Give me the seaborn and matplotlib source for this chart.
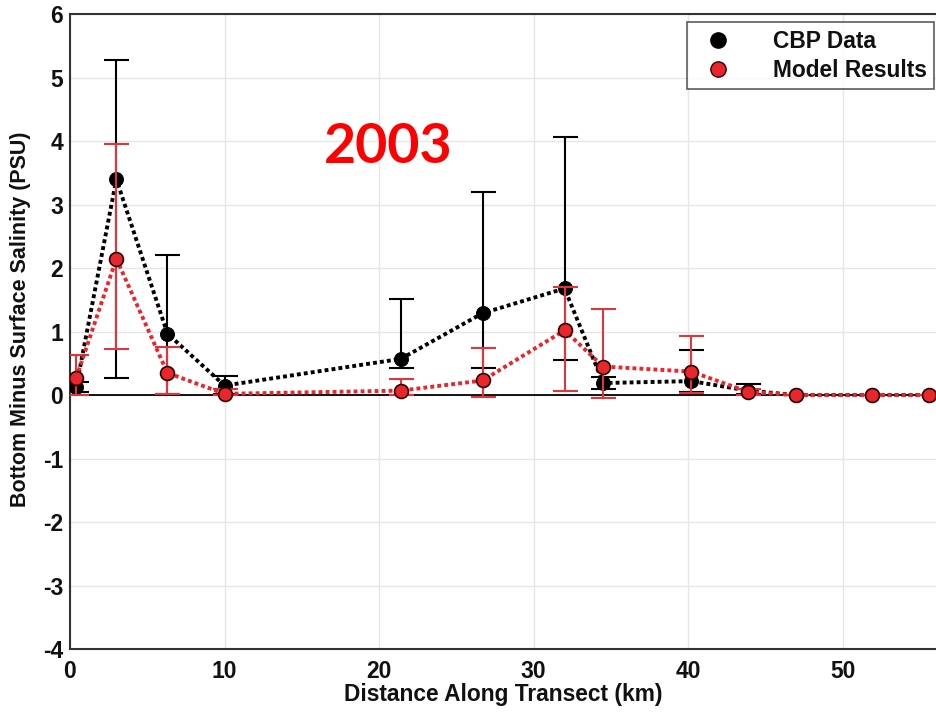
import numpy as np
import pandas as pd
import matplotlib
matplotlib.use("Agg")
import matplotlib.pyplot as plt
import seaborn as sns
from matplotlib.lines import Line2D

# ---- data ----
distance_km = [0.4, 3.0, 6.3, 10.0, 21.4, 26.7, 32.0, 34.5, 40.2, 43.9, 47.0, 51.9, 55.6]
cbp_data    = [0.12, 3.40, 0.97, 0.15, 0.57, 1.29, 1.68, 0.19, 0.22, 0.07, 0.0, 0.0, 0.0]
cbp_low     = [0.05, 0.27, 0.02, 0.02, 0.42, 0.42, 0.56, 0.10, 0.05, 0.02, 0.0, 0.0, 0.0]
cbp_high    = [0.20, 5.28, 2.20, 0.30, 1.51, 3.20, 4.07, 0.28, 0.71, 0.17, 0.0, 0.0, 0.0]
model       = [0.27, 2.15, 0.35, 0.02, 0.07, 0.23, 1.02, 0.45, 0.37, 0.05, 0.0, 0.0, 0.0]
model_low   = [0.0, 0.73, 0.02, 0.0, 0.0, -0.03, 0.06, -0.05, 0.03, 0.0, 0.0, 0.0, 0.0]
model_high  = [0.63, 3.95, 0.75, 0.10, 0.25, 0.74, 1.70, 1.35, 0.93, 0.10, 0.0, 0.0, 0.0]
x_ticks = [0, 10, 20, 30, 40, 50]
y_ticks = [-4, -3, -2, -1, 0, 1, 2, 3, 4, 5, 6]
series_names = ["CBP Data", "Model Results"]
year_label = "2003"

sns.set_theme(style="whitegrid")
plt.rcParams['font.family'] = ['Liberation Sans', 'DejaVu Sans']
plt.rcParams['text.color'] = '#111111'
plt.rcParams['axes.labelcolor'] = '#111111'
plt.rcParams['xtick.color'] = '#111111'
plt.rcParams['ytick.color'] = '#111111'

fig = plt.figure(figsize=(9.37, 7.12), dpi=100)
ax = fig.add_axes([0.0747, 0.0885, 0.9253, 0.8915])

df_cbp = pd.DataFrame({"x": distance_km, "y": cbp_data})
df_mod = pd.DataFrame({"x": distance_km, "y": model})

red = "#e8262b"
red_err = "#e0353a"

# zero line
ax.axhline(0, color="black", lw=1.3, zorder=1)

# CBP series
ax.errorbar(distance_km, cbp_data,
            yerr=[np.array(cbp_data) - np.array(cbp_low), np.array(cbp_high) - np.array(cbp_data)],
            fmt="none", ecolor="black", elinewidth=1.5, capsize=9, capthick=1.5, zorder=2)
sns.lineplot(data=df_cbp, x="x", y="y", ax=ax, color="black", lw=2.8, linestyle=(0, (1, 0.8)),
             marker="o", markersize=10, markerfacecolor="black", markeredgecolor="black",
             zorder=3, legend=False, sort=False)

# Model series
ax.errorbar(distance_km, model,
            yerr=[np.array(model) - np.array(model_low), np.array(model_high) - np.array(model)],
            fmt="none", ecolor=red_err, elinewidth=1.5, capsize=9, capthick=1.5, zorder=4)
sns.lineplot(data=df_mod, x="x", y="y", ax=ax, color=red, lw=2.8, linestyle=(0, (1, 0.8)),
             marker="o", markersize=10, markerfacecolor=red, markeredgecolor="#300000",
             markeredgewidth=1.2, zorder=5, legend=False, sort=False)

ax.set_xlim(0, 56.1)
ax.set_ylim(-4, 6)
ax.set_xticks(x_ticks)
ax.set_yticks(y_ticks)
ax.set_xticklabels([str(t) for t in x_ticks], fontsize=16.5, fontweight="bold")
ax.set_yticklabels([str(t) for t in y_ticks], fontsize=16.5, fontweight="bold")
ax.tick_params(axis="both", direction="in", length=5, color="#333333", labelcolor="#111111")
ax.tick_params(axis="x", pad=8)
ax.tick_params(axis="y", pad=5)
ax.set_xlabel("Distance Along Transect (km)", fontsize=16.4, fontweight="bold", color="#111111")
ax.set_ylabel("Bottom Minus Surface Salinity (PSU)", fontsize=15.5, fontweight="bold", color="#111111")
ax.xaxis.set_label_coords(0.5, -0.054)
ax.yaxis.set_label_coords(-0.045, 0.52)
ax.grid(True, color="#e6e6e6", lw=1.0)
for s in ["left", "bottom", "top"]:
    ax.spines[s].set_color("#333333")
    ax.spines[s].set_linewidth(1.5)
ax.spines["right"].set_visible(False)
ax.set_facecolor("white")
fig.patch.set_facecolor("white")

handles = [Line2D([], [], ls="none", marker="o", markersize=11, markerfacecolor="black", markeredgecolor="black"),
           Line2D([], [], ls="none", marker="o", markersize=11, markerfacecolor=red, markeredgecolor="#300000")]
leg = ax.legend(handles, series_names, loc="upper right", bbox_to_anchor=(0.997, 0.988),
                prop={"size": 16.4, "weight": "bold"}, frameon=True, fancybox=False,
                edgecolor="#333333", handletextpad=1.4, borderpad=0.35, labelspacing=0.25,
                borderaxespad=0.0)
leg.get_frame().set_linewidth(1.2)
for t in leg.get_texts():
    t.set_color("#111111")

fig.text(388 / 937, 1 - 147 / 712, year_label, color="#ff0000", fontsize=40, fontweight="bold",
         family=["Lato", "DejaVu Sans"], ha="center", va="center")

fig.savefig("out.png", dpi=100)
